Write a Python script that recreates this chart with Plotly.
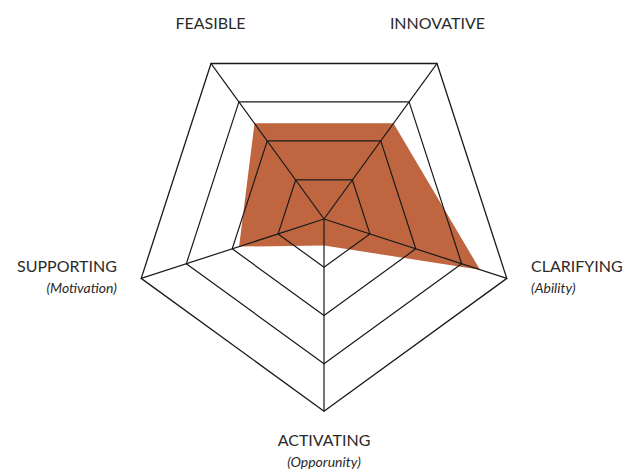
import plotly.graph_objects as go

categories = ["FEASIBLE", "INNOVATIVE", "CLARIFYING", "ACTIVATING", "SUPPORTING"]
subtitles = ["", "", "(Ability)", "(Opporunity)", "(Motivation)"]
values = [2.45, 2.45, 3.4, 0.55, 1.85]
ring_values = [1, 2, 3, 4]
r_max = 4

label_text = [
    c if not s else f"{c}<br><span style='font-size:14px'><i>{s}</i></span>"
    for c, s in zip(categories, subtitles)
]
label_pos = ["top center", "top center", "middle right", "bottom center", "middle left"]
label_gap = [46, 46, 36, 34, 36]

INK = "#1a1a1a"
fig = go.Figure()

# filled profile
fig.add_trace(go.Scatterpolar(
    r=values + values[:1],
    theta=categories + categories[:1],
    mode="lines", fill="toself",
    fillcolor="#BF6640",
    line=dict(color="#BF6640", width=0),
    hoverinfo="skip",
))

# inner rings (drawn above the fill)
for v in ring_values[:-1]:
    fig.add_trace(go.Scatterpolar(
        r=[v] * (len(categories) + 1),
        theta=categories + categories[:1],
        mode="lines", line=dict(color=INK, width=1.2),
        hoverinfo="skip",
    ))

# spokes
spoke_r, spoke_t = [], []
for c in categories:
    spoke_r += [0, r_max, None]
    spoke_t += [c, c, None]
fig.add_trace(go.Scatterpolar(
    r=spoke_r, theta=spoke_t, mode="lines",
    line=dict(color=INK, width=1.2), hoverinfo="skip", connectgaps=False,
))

# outer frame
fig.add_trace(go.Scatterpolar(
    r=[r_max] * (len(categories) + 1),
    theta=categories + categories[:1],
    mode="lines", line=dict(color=INK, width=2.6),
    hoverinfo="skip",
))

# axis labels
fig.add_trace(go.Scatterpolar(
    r=[r_max] * len(categories),
    theta=categories,
    mode="markers+text",
    marker=dict(size=label_gap, opacity=0),
    text=label_text,
    textposition=label_pos,
    textfont=dict(size=16, color="#2a2a2a"),
    cliponaxis=False,
    hoverinfo="skip",
))

W, H = 637, 471
cx, cy, R = 316, 211, 193
fig.update_layout(
    width=W, height=H,
    margin=dict(l=0, r=0, t=0, b=0),
    paper_bgcolor="white",
    showlegend=False,
    font=dict(family="Lato, 'Open Sans', sans-serif", size=16, color="#2a2a2a"),
    polar=dict(
        domain=dict(x=[(cx - R) / W, (cx + R) / W], y=[(H - cy - R) / H, (H - cy + R) / H]),
        gridshape="linear",
        bgcolor="white",
        radialaxis=dict(range=[0, r_max], showticklabels=False, ticks="",
                        showline=False, showgrid=False),
        angularaxis=dict(direction="clockwise", rotation=126,
                         categoryorder="array", categoryarray=categories,
                         showticklabels=False, ticks="", showline=False, showgrid=False),
    ),
)

fig.write_html("out.html")
